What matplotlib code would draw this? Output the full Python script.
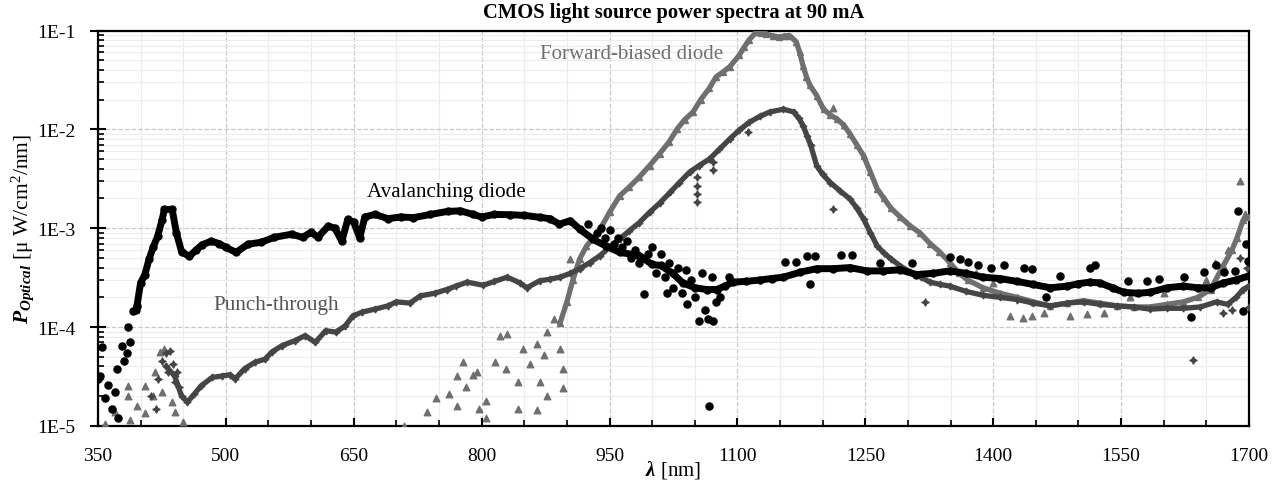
import numpy as np
import matplotlib.pyplot as plt
from matplotlib.ticker import LogLocator, NullFormatter, FixedFormatter, FixedLocator

plt.rcParams['font.family'] = ['Liberation Serif', 'DejaVu Serif']
plt.rcParams['mathtext.fontset'] = 'custom'
plt.rcParams['mathtext.rm'] = 'Liberation Serif'
plt.rcParams['mathtext.it'] = 'Liberation Serif:italic'
plt.rcParams['mathtext.bf'] = 'Liberation Serif:bold'
plt.rcParams['mathtext.bfit'] = 'Liberation Serif:bold:italic'

# Avalanching diode (black circles)
aval_wl = [395, 400, 405, 410, 415, 420, 425, 428, 437, 442, 448, 457, 465, 472, 483, 492, 500,
           512, 526, 541, 557, 577, 590, 600, 608, 620, 628, 636, 643, 650, 657, 663, 675, 690,
           705, 720, 740, 760, 775, 790, 800, 815, 833, 850, 868, 880, 891, 904, 915, 931, 946,
           962, 985, 1000, 1010, 1024, 1036, 1050, 1064, 1076, 1085, 1095, 1110, 1127, 1140, 1154,
           1174, 1193, 1212, 1232, 1252, 1271, 1291, 1310, 1330, 1349, 1368, 1388, 1408, 1428,
           1447, 1467, 1487, 1500, 1513, 1525, 1540, 1553, 1570, 1584, 1604, 1623, 1640, 1655,
           1670, 1685, 1700]
aval_p = [1.5e-4, 2.8e-4, 3.4e-4, 4.9e-4, 6.5e-4, 8.3e-4, 1.2e-3, 1.55e-3, 1.55e-3, 9e-4, 5.8e-4,
          5.2e-4, 6e-4, 6.8e-4, 7.4e-4, 7e-4, 6.4e-4, 5.7e-4, 6.9e-4, 7.2e-4, 8.1e-4, 8.7e-4, 8.1e-4,
          9.1e-4, 8.1e-4, 1.05e-3, 1.0e-3, 7.4e-4, 1.23e-3, 1.15e-3, 8e-4, 1.3e-3, 1.38e-3, 1.25e-3,
          1.3e-3, 1.28e-3, 1.38e-3, 1.48e-3, 1.5e-3, 1.38e-3, 1.3e-3, 1.38e-3, 1.37e-3, 1.35e-3,
          1.29e-3, 1.25e-3, 1.1e-3, 1.19e-3, 9.8e-4, 7.7e-4, 6.6e-4, 5.7e-4, 5.3e-4, 4.3e-4, 4.2e-4,
          3.5e-4, 2.8e-4, 2.5e-4, 2.4e-4, 2.4e-4, 2.6e-4, 2.85e-4, 2.9e-4, 3.0e-4, 3.1e-4, 3.2e-4,
          3.6e-4, 3.9e-4, 3.9e-4, 4.0e-4, 3.7e-4, 3.7e-4, 3.8e-4, 3.4e-4, 3.5e-4, 3.7e-4, 3.5e-4,
          3.2e-4, 3.1e-4, 2.9e-4, 2.7e-4, 2.5e-4, 2.6e-4, 2.75e-4, 2.85e-4, 2.8e-4, 2.5e-4, 2.25e-4,
          2.2e-4, 2.25e-4, 2.5e-4, 2.6e-4, 2.5e-4, 2.5e-4, 2.8e-4, 3.0e-4, 3.3e-4]
aval_sc_wl = [350, 352, 355, 358, 362, 366, 370, 372, 373, 378, 381, 384, 385, 388, 391, 396,
              925, 935, 940, 945, 950, 955, 960, 965, 970, 975, 980, 985, 990, 995, 1000, 1005,
              1010, 1015, 1017, 1020, 1025, 1030, 1035, 1040, 1041, 1045, 1050, 1055, 1058, 1062,
              1065, 1067, 1070, 1071, 1075, 1080, 1090, 1156, 1169, 1182, 1185, 1191, 1221, 1234,
              1267, 1305, 1349, 1361, 1371, 1382, 1398, 1413, 1436, 1446, 1462, 1478, 1513, 1519,
              1558, 1580, 1594, 1624, 1632, 1647, 1661, 1671, 1684, 1687, 1693, 1697, 1699]
aval_sc_p = [3e-5, 3.2e-5, 6.3e-5, 1.9e-5, 2.6e-5, 1.5e-5, 2.2e-5, 3.8e-5, 1.2e-5, 6.5e-5, 4.5e-5,
             5.5e-5, 1e-4, 7e-5, 1.46e-4, 1.65e-4,
             1.1e-3, 9e-4, 1.0e-3, 8e-4, 9.5e-4, 7e-4, 8e-4, 6.5e-4, 7.5e-4, 5e-4, 6e-4, 4.5e-4,
             2.15e-4, 5.5e-4, 6.5e-4, 3.5e-4, 5.5e-4, 3.2e-4, 2.2e-4, 4.5e-4, 2.5e-4, 4e-4, 2.2e-4,
             3.8e-4, 1.7e-4, 3e-4, 2e-4, 1.16e-4, 3.5e-4, 1.5e-4, 1.2e-4, 1.6e-5, 3.2e-4, 1.16e-4,
             1.8e-4, 2.0e-4, 3.2e-4, 4.6e-4, 4.6e-4, 5.2e-4, 2.7e-4, 5.3e-4, 5.4e-4, 5.4e-4, 4.4e-4,
             4.4e-4, 5.1e-4, 4.9e-4, 4.6e-4, 4.2e-4, 4.0e-4, 4.2e-4, 4.0e-4, 3.9e-4, 2e-4, 3.3e-4,
             4e-4, 4.2e-4, 2.9e-4, 2.9e-4, 3.1e-4, 3.2e-4, 1.26e-4, 3.6e-4, 4.2e-4, 3.6e-4, 3.7e-4,
             1.5e-3, 1.46e-4, 6.9e-4, 4.7e-4]

# Punch-through (dark grey stars)
punch_wl = [430, 440, 448, 455, 463, 471, 484, 495, 505, 511, 522, 534, 546, 554, 566, 581, 593,
            605, 617, 629, 640, 649, 660, 675, 690, 700, 716, 728, 745, 759, 770, 783, 802, 815,
            830, 845, 853, 868, 880, 892, 904, 915, 927, 939, 950, 962, 973, 985, 997, 1009, 1021,
            1032, 1044, 1055, 1067, 1079, 1091, 1102, 1114, 1126, 1138, 1154, 1166, 1172, 1177,
            1182, 1186, 1193, 1200, 1209, 1220, 1232, 1240, 1248, 1256, 1264, 1272, 1280, 1292,
            1303, 1315, 1326, 1338, 1349, 1368, 1388, 1408, 1428, 1447, 1467, 1487, 1506, 1525,
            1545, 1565, 1584, 1604, 1623, 1643, 1662, 1675, 1685, 1693, 1700]
punch_p = [4e-5, 3.2e-5, 2e-5, 1.75e-5, 2.1e-5, 2.55e-5, 3.1e-5, 3.2e-5, 3.3e-5, 3.0e-5, 3.8e-5,
           4.4e-5, 4.75e-5, 5.6e-5, 6.5e-5, 7.3e-5, 8.2e-5, 7.0e-5, 9.2e-5, 8.9e-5, 1.03e-4, 1.3e-4,
           1.42e-4, 1.52e-4, 1.64e-4, 1.8e-4, 1.75e-4, 2.07e-4, 2.2e-4, 2.4e-4, 2.6e-4, 2.85e-4,
           2.65e-4, 2.9e-4, 3.2e-4, 2.8e-4, 2.5e-4, 2.94e-4, 3.05e-4, 3.2e-4, 3.5e-4, 3.9e-4, 4.5e-4,
           5.3e-4, 6.4e-4, 7.8e-4, 9.4e-4, 1.14e-3, 1.45e-3, 1.8e-3, 2.3e-3, 2.9e-3, 3.7e-3, 4.3e-3,
           5.0e-3, 6.3e-3, 8.0e-3, 9.8e-3, 1.18e-2, 1.35e-2, 1.5e-2, 1.6e-2, 1.5e-2, 1.3e-2, 1.09e-2,
           8.5e-3, 6.9e-3, 4.3e-3, 3.5e-3, 2.9e-3, 2.4e-3, 1.98e-3, 1.6e-3, 1.24e-3, 9e-4, 6.6e-4,
           5.6e-4, 4.9e-4, 4.1e-4, 3.6e-4, 3.2e-4, 2.85e-4, 2.7e-4, 2.6e-4, 2.3e-4, 2.1e-4, 2.0e-4,
           1.9e-4, 1.75e-4, 1.64e-4, 1.75e-4, 1.8e-4, 1.7e-4, 1.64e-4, 1.6e-4, 1.52e-4, 1.55e-4,
           1.55e-4, 1.6e-4, 1.8e-4, 1.7e-4, 2.0e-4, 2.4e-4, 2.6e-4]
punch_sc_wl = [412, 418, 420, 425, 430, 432, 435, 438, 440, 443, 445, 1053, 1053, 1053, 1053,
               1071, 1071, 1113, 1212, 1320, 1634, 1670, 1680, 1690, 1698, 1700]
punch_sc_p = [2e-5, 1.5e-5, 3e-5, 4.5e-5, 5.5e-5, 3.5e-5, 5.8e-5, 4.2e-5, 2.8e-5, 3.5e-5, 2.5e-5,
              3.3e-3, 2.7e-3, 2.2e-3, 1.85e-3, 4.7e-3, 3.9e-3, 9.4e-3, 1.57e-3, 1.8e-4, 4.6e-5,
              1.4e-4, 1.5e-4, 5e-4, 4e-4, 1.6e-4]

# Forward-biased diode (grey triangles)
fwd_wl = [892, 900, 907, 915, 923, 931, 939, 950, 962, 973, 985, 997, 1009, 1020, 1029, 1038,
          1048, 1057, 1067, 1075, 1083, 1091, 1102, 1108, 1114, 1122, 1128, 1134, 1142, 1149, 1155,
          1161, 1169, 1173, 1177, 1181, 1185, 1193, 1201, 1209, 1217, 1225, 1232, 1240, 1248, 1256,
          1264, 1272, 1280, 1291, 1303, 1314, 1326, 1337, 1349, 1360, 1370, 1388, 1408, 1428, 1447,
          1467, 1487, 1506, 1525, 1545, 1565, 1584, 1604, 1623, 1640, 1655, 1670, 1680, 1686, 1693,
          1700]
fwd_p = [1.1e-4, 1.8e-4, 3e-4, 4.9e-4, 6.6e-4, 8e-4, 9.8e-4, 1.45e-3, 2.13e-3, 2.6e-3, 3.3e-3,
         4.3e-3, 5.7e-3, 7.5e-3, 1.0e-2, 1.25e-2, 1.5e-2, 2.0e-2, 2.6e-2, 3.4e-2, 3.8e-2, 4.3e-2,
         5.6e-2, 6.8e-2, 8.1e-2, 9.6e-2, 9.5e-2, 9.2e-2, 8.8e-2, 8.6e-2, 8.8e-2, 8.9e-2, 7.7e-2,
         6e-2, 4.4e-2, 3.4e-2, 2.8e-2, 2.2e-2, 1.6e-2, 1.4e-2, 1.27e-2, 1.1e-2, 9.0e-3, 7.0e-3,
         5.4e-3, 3.7e-3, 2.5e-3, 2.0e-3, 1.6e-3, 1.3e-3, 1.05e-3, 9e-4, 7e-4, 5.8e-4, 4.5e-4,
         3.5e-4, 3.0e-4, 2.5e-4, 2.2e-4, 2.0e-4, 1.8e-4, 1.64e-4, 1.75e-4, 1.85e-4, 1.75e-4,
         1.64e-4, 1.6e-4, 1.6e-4, 1.7e-4, 1.8e-4, 2.0e-4, 2.4e-4, 4.2e-4, 6e-4, 8e-4, 1.2e-3, 1.3e-3]
fwd_sc_wl = [358, 370, 385, 385, 388, 396, 405, 405, 414, 417, 423, 425, 428, 437, 440, 450,
             709, 736, 747, 762, 771, 771, 778, 782, 790, 795, 797, 805, 805, 816, 821, 828, 830,
             843, 843, 849, 857, 865, 865, 869, 873, 877, 877, 885, 892, 896, 896, 904, 1212,
             1380, 1400, 1420, 1435, 1445, 1460, 1490, 1510, 1530, 1560, 1600, 1650, 1660, 1676,
             1690, 1695]
fwd_sc_p = [1.05e-5, 1.4e-5, 2.55e-5, 2e-5, 1.15e-5, 1.6e-5, 2.55e-5, 1.35e-5, 2e-5, 3.5e-5,
            5.6e-5, 2.2e-5, 6e-5, 1.75e-5, 1.4e-5, 1.1e-5,
            1e-5, 1.4e-5, 1.9e-5, 2.1e-5, 3.2e-5, 1.6e-5, 4.4e-5, 2.5e-5, 3.3e-5, 3.5e-5, 1.5e-5,
            1.8e-5, 1.2e-5, 4.4e-5, 8.2e-5, 3.8e-5, 8.5e-5, 2.8e-5, 1.5e-5, 6e-5, 4.2e-5, 6.8e-5,
            1.45e-5, 2.8e-5, 5.2e-5, 2e-5, 9e-5, 1.2e-4, 6e-5, 3.8e-5, 2.4e-5, 4.9e-4, 1.65e-2,
            3.5e-4, 2.8e-4, 1.3e-4, 1.25e-4, 1.3e-4, 1.4e-4, 1.3e-4, 1.35e-4, 1.4e-4, 2e-4, 2.2e-4,
            3e-4, 4.4e-4, 6e-4, 3e-3, 1.4e-3]

x_ticks = [350, 500, 650, 800, 950, 1100, 1250, 1400, 1550, 1700]
y_ticks = [1e-5, 1e-4, 1e-3, 1e-2, 1e-1]
y_tick_labels = ['1E-5', '1E-4', '1E-3', '1E-2', '1E-1']

fig = plt.figure(figsize=(12.79, 4.81), dpi=100)
ax = fig.add_axes([0.0766, 0.1123, 0.8999, 0.8222])

c_aval, c_punch, c_fwd = '#000000', '#454545', '#6f6f6f'

ax.plot(fwd_wl, fwd_p, color=c_fwd, lw=3.8, marker='^', ms=4.5, zorder=3)
ax.scatter(fwd_sc_wl, fwd_sc_p, color=c_fwd, marker='^', s=22, zorder=3)
ax.plot(punch_wl, punch_p, color=c_punch, lw=3.8, marker=(4, 1, 0), ms=5, zorder=4)
ax.scatter(punch_sc_wl, punch_sc_p, color=c_punch, marker=(4, 1, 0), s=26, zorder=4)
ax.plot(aval_wl, aval_p, color=c_aval, lw=5, marker='o', ms=5, zorder=5)
ax.scatter(aval_sc_wl, aval_sc_p, color=c_aval, marker='o', s=26, zorder=5)

ax.set_yscale('log')
ax.set_xlim(350, 1700)
ax.set_ylim(1e-5, 1e-1)
ax.xaxis.set_major_locator(FixedLocator(x_ticks))
ax.xaxis.set_minor_locator(FixedLocator(np.arange(350, 1701, 50)))
ax.yaxis.set_major_locator(FixedLocator(y_ticks))
ax.yaxis.set_major_formatter(FixedFormatter(y_tick_labels))
ax.yaxis.set_minor_locator(LogLocator(base=10, subs=np.arange(2, 10)))
ax.yaxis.set_minor_formatter(NullFormatter())

ax.grid(which='major', color='#c8c8c8', ls='--', lw=0.9)
ax.grid(which='minor', color='#ececec', ls='-', lw=0.8)
ax.set_axisbelow(True)

ax.tick_params(axis='x', which='major', direction='in', length=6, width=1.5, labelsize=14, pad=15)
ax.tick_params(axis='y', which='major', direction='inout', length=12, width=1.5, labelsize=14, pad=10)
ax.tick_params(which='minor', direction='in', length=4, width=1.2)
for s in ax.spines.values():
    s.set_linewidth(1.6)

ax.set_title('CMOS light source power spectra at 90 mA', fontsize=14.8, fontweight='bold', pad=10)
ax.set_xlabel(r'$\mathbfit{\lambda}$ [nm]', fontsize=15, labelpad=-4)
ax.set_ylabel(r'$\mathbfit{P}_{\mathbfit{Optical}}$ [μ W/cm$^2$/nm]', fontsize=15.5, labelpad=1)

ax.text(665, 2.33e-3, 'Avalanching diode', fontsize=15.2, color='#000000', va='center')
ax.text(485, 1.7e-4, 'Punch-through', fontsize=15.2, color='#555555', va='center')
ax.text(868, 5.9e-2, 'Forward-biased diode', fontsize=15, color='#6f6f6f', va='center')

fig.savefig('out.png', dpi=100)
